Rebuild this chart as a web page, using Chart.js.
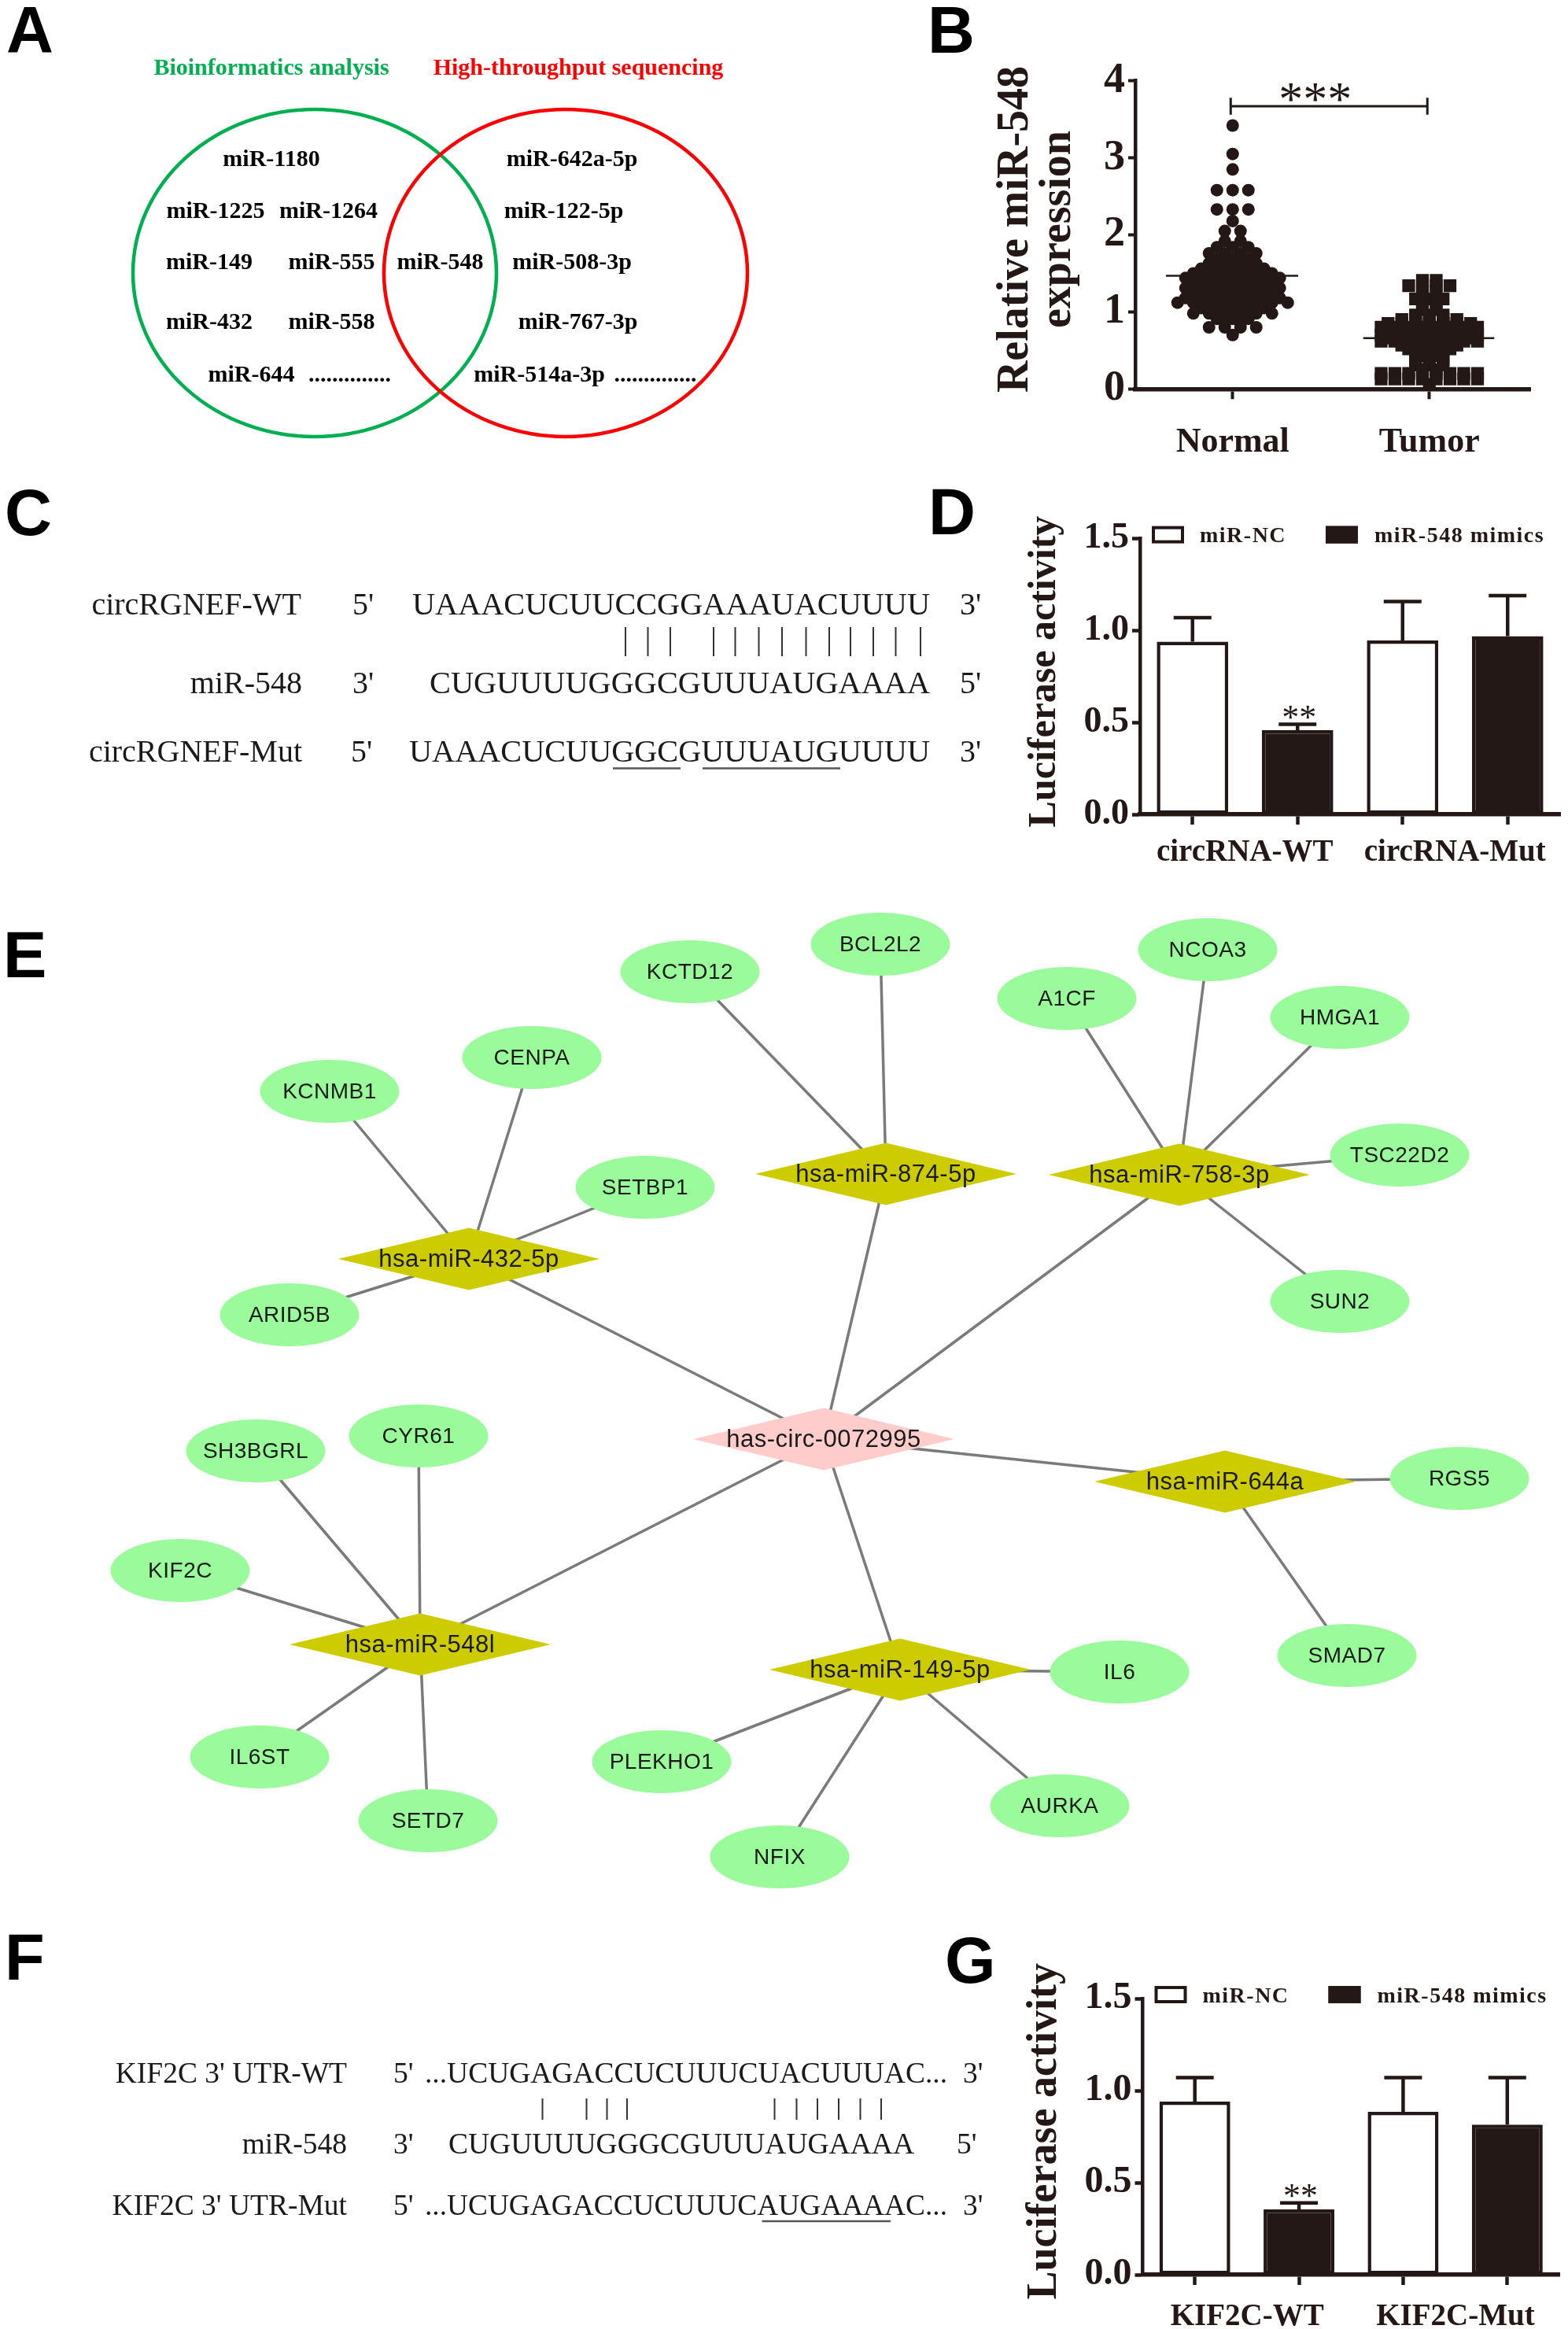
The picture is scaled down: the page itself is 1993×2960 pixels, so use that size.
<!DOCTYPE html>
<html>
<head>
<meta charset="utf-8">
<title>circRGNEF / miR-548 / KIF2C</title>
<script src="https://cdn.jsdelivr.net/npm/chart.js@4.4.1/dist/chart.umd.min.js"></script>
<style>
  html, body { margin: 0; padding: 0; background: #fff; }
  #page { position: relative; width: 1993px; height: 2960px; overflow: hidden; background: #fff; }
  #page canvas, #page svg { position: absolute; }
  #page svg { left: 0; top: 0; pointer-events: none; }
</style>
</head>
<body>
<div id="page">
  <canvas id="vennChart" width="1000" height="580" style="left:0;top:0"></canvas>
  <canvas id="expressionChart" width="753" height="620" style="left:1240px;top:0"></canvas>
  <canvas id="circLucChart" width="753" height="520" style="left:1240px;top:600px"></canvas>
  <canvas id="networkChart" width="1993" height="1300" style="left:0;top:1130px"></canvas>
  <canvas id="kifLucChart" width="753" height="530" style="left:1240px;top:2430px"></canvas>

  <svg width="1993" height="2960" viewBox="0 0 1993 2960">
    <!-- panel letters -->
    <g font-family="'Liberation Sans', Arial, sans-serif" font-weight="bold" font-size="83" fill="#000">
      <text x="8" y="67">A</text>
      <text x="1179" y="67">B</text>
      <text x="6" y="680">C</text>
      <text x="1180" y="679">D</text>
      <text x="4" y="1242">E</text>
      <text x="6" y="2516">F</text>
      <text x="1201" y="2520">G</text>
    </g>

    <!-- C: circRGNEF / miR-548 pairing -->
    <g font-family="'Liberation Serif', 'Times New Roman', serif" font-size="40" fill="#1a1a1a">
      <text x="383" y="781" text-anchor="end">circRGNEF-WT</text>
      <text x="448" y="781">5'</text>
      <text x="524" y="781" textLength="658" lengthAdjust="spacingAndGlyphs">UAAACUCUUCCGGAAAUACUUUU</text>
      <text x="1220" y="781">3'</text>
      <text x="384" y="881" text-anchor="end">miR-548</text>
      <text x="448" y="881">3'</text>
      <text x="546" y="881" textLength="636" lengthAdjust="spacingAndGlyphs">CUGUUUUGGGCGUUUAUGAAAA</text>
      <text x="1220" y="881">5'</text>
      <text x="384" y="968" text-anchor="end">circRGNEF-Mut</text>
      <text x="446" y="968">5'</text>
      <text x="520" y="968" textLength="662" lengthAdjust="spacingAndGlyphs">UAAACUCUUGGCGUUUAUGUUUU</text>
      <text x="1220" y="968">3'</text>
    </g>
    <g stroke="#333" stroke-width="2">
      <line x1="795" y1="797" x2="795" y2="834"/><line x1="823.5" y1="797" x2="823.5" y2="834"/>
      <line x1="852" y1="797" x2="852" y2="834"/><line x1="907" y1="797" x2="907" y2="834"/>
      <line x1="934.5" y1="797" x2="934.5" y2="834"/><line x1="964.5" y1="797" x2="964.5" y2="834"/>
      <line x1="994" y1="797" x2="994" y2="834"/><line x1="1024.5" y1="797" x2="1024.5" y2="834"/>
      <line x1="1054" y1="797" x2="1054" y2="834"/><line x1="1081" y1="797" x2="1081" y2="834"/>
      <line x1="1110" y1="797" x2="1110" y2="834"/><line x1="1138.5" y1="797" x2="1138.5" y2="834"/>
      <line x1="1170" y1="797" x2="1170" y2="834"/>
    </g>
    <g stroke="#555" stroke-width="2.5">
      <line x1="779" y1="976.5" x2="865" y2="976.5"/>
      <line x1="893" y1="976.5" x2="1068" y2="976.5"/>
    </g>

    <!-- F: KIF2C 3' UTR / miR-548 pairing -->
    <g font-family="'Liberation Serif', 'Times New Roman', serif" font-size="37.5" fill="#1a1a1a">
      <text x="441" y="2647" text-anchor="end">KIF2C 3' UTR-WT</text>
      <text x="500" y="2647">5'</text>
      <text x="540" y="2647" textLength="664" lengthAdjust="spacingAndGlyphs">...UCUGAGACCUCUUUCUACUUUAC...</text>
      <text x="1224" y="2647">3'</text>
      <text x="441" y="2737" text-anchor="end">miR-548</text>
      <text x="500" y="2737">3'</text>
      <text x="570" y="2737" textLength="592" lengthAdjust="spacingAndGlyphs">CUGUUUUGGGCGUUUAUGAAAA</text>
      <text x="1216" y="2737">5'</text>
      <text x="441" y="2815" text-anchor="end">KIF2C 3' UTR-Mut</text>
      <text x="500" y="2815">5'</text>
      <text x="540" y="2815" textLength="664" lengthAdjust="spacingAndGlyphs">...UCUGAGACCUCUUUCAUGAAAAC...</text>
      <text x="1224" y="2815">3'</text>
    </g>
    <g stroke="#333" stroke-width="2">
      <line x1="689.5" y1="2667" x2="689.5" y2="2694"/><line x1="745.5" y1="2667" x2="745.5" y2="2694"/>
      <line x1="771.5" y1="2667" x2="771.5" y2="2694"/><line x1="797" y1="2667" x2="797" y2="2694"/>
      <line x1="984.5" y1="2667" x2="984.5" y2="2694"/><line x1="1012.5" y1="2667" x2="1012.5" y2="2694"/>
      <line x1="1039" y1="2667" x2="1039" y2="2694"/><line x1="1066" y1="2667" x2="1066" y2="2694"/>
      <line x1="1093.5" y1="2667" x2="1093.5" y2="2694"/><line x1="1120" y1="2667" x2="1120" y2="2694"/>
    </g>
    <line x1="968.5" y1="2823" x2="1132" y2="2823" stroke="#555" stroke-width="2.5"/>
  </svg>
</div>

<script>
const SERIF = "'Liberation Serif', 'Times New Roman', serif";
const SANS = "'Liberation Sans', Arial, sans-serif";
const INK = '#231815';

Chart.defaults.font.family = SERIF;
Chart.defaults.color = INK;
Chart.defaults.animation = false;
Chart.defaults.events = [];
Chart.defaults.plugins.legend.display = false;
Chart.defaults.plugins.tooltip.enabled = false;

// ---------- A: Venn diagram ----------
const vennSets = ['Bioinformatics analysis', 'High-throughput sequencing'];
const vennCx = [400, 719];
const vennCy = [347, 347];
const vennRx = [231, 231];
const vennRy = [208, 208];
const vennTitleX = [345, 735];
const vennTitleY = 95;
const vennLabels = ['miR-1180', 'miR-642a-5p',
  'miR-1225', 'miR-1264', 'miR-122-5p',
  'miR-149', 'miR-555', 'miR-548', 'miR-508-3p',
  'miR-432', 'miR-558', 'miR-767-3p',
  'miR-644', '..............', 'miR-514a-3p', '..............'];
const vennLabelX = [345, 727, 274, 417.5, 716.5, 266, 421.5, 559.5, 727, 266, 421.5, 734.5, 319.5, 444.5, 685.5, 833];
const vennLabelY = [211, 211, 276.5, 276.5, 276.5, 342, 342, 342, 342, 418, 418, 418, 484.5, 484.5, 484.5, 484.5];
const vennColors = ['#00B050', '#FF0000'];

const vennPlugin = {
  id: 'vennPlugin',
  beforeDatasetsDraw(chart) {
    const { ctx, scales: { x, y } } = chart;
    ctx.save();
    vennSets.forEach((name, i) => {
      const cx = x.getPixelForValue(vennCx[i]);
      const cy = y.getPixelForValue(vennCy[i]);
      const rx = Math.abs(x.getPixelForValue(vennCx[i] + vennRx[i]) - cx);
      const ry = Math.abs(y.getPixelForValue(vennCy[i] + vennRy[i]) - cy);
      ctx.beginPath();
      ctx.ellipse(cx, cy, rx, ry, 0, 0, Math.PI * 2);
      ctx.lineWidth = 4.5;
      ctx.strokeStyle = vennColors[i];
      ctx.stroke();
      ctx.font = 'bold 30px ' + SERIF;
      ctx.fillStyle = vennColors[i];
      ctx.textAlign = 'center';
      ctx.textBaseline = 'alphabetic';
      ctx.fillText(name, x.getPixelForValue(vennTitleX[i]), y.getPixelForValue(vennTitleY));
    });
    ctx.restore();
  },
  afterDatasetsDraw(chart) {
    const ctx = chart.ctx;
    ctx.save();
    ctx.font = 'bold 30px ' + SERIF;
    ctx.fillStyle = '#000';
    ctx.textAlign = 'center';
    ctx.textBaseline = 'alphabetic';
    chart.getDatasetMeta(0).data.forEach((pt, i) => ctx.fillText(vennLabels[i], pt.x, pt.y));
    ctx.restore();
  }
};

new Chart(document.getElementById('vennChart'), {
  type: 'scatter',
  data: { datasets: [{ data: vennLabels.map((t, i) => ({ x: vennLabelX[i], y: vennLabelY[i] })), pointRadius: 0 }] },
  options: {
    responsive: false,
    layout: { padding: 0 },
    scales: {
      x: { type: 'linear', min: 0, max: 1000, display: false },
      y: { type: 'linear', min: 0, max: 580, reverse: true, display: false }
    }
  },
  plugins: [vennPlugin]
});

// ---------- B: relative miR-548 expression ----------
const groupNames = ['Normal', 'Tumor'];
const normalValues = [
  3.42, 3.05, 2.85, 2.58, 2.58, 2.58, 2.33, 2.33, 2.33, 2.18, 2.05, 2.05,
  1.92, 1.92, 1.84, 1.84, 1.84, 1.76, 1.76, 1.76, 1.76, 1.68, 1.68, 1.68,
  1.63, 1.63, 1.63, 1.63, 1.56, 1.56, 1.56, 1.56, 1.56,
  1.50, 1.50, 1.50, 1.50, 1.50, 1.50, 1.44, 1.44, 1.44, 1.44, 1.44, 1.44, 1.44,
  1.38, 1.38, 1.38, 1.38, 1.38, 1.38, 1.31, 1.31, 1.31, 1.31, 1.31, 1.31, 1.31,
  1.24, 1.24, 1.24, 1.24, 1.24, 1.24, 1.18, 1.18, 1.18, 1.18, 1.18, 1.18, 1.18,
  1.12, 1.12, 1.12, 1.12, 1.12, 1.12, 1.12, 1.12, 1.05, 1.05, 1.05, 1.05, 1.05,
  0.98, 0.98, 0.98, 0.98, 0.98, 0.98, 0.91, 0.91, 0.91, 0.85, 0.85,
  0.80, 0.80, 0.80, 0.80, 0.70
];
const tumorValues = [
  1.41, 1.41, 1.34, 1.34, 1.34, 1.34, 1.26, 1.26, 1.17, 1.17, 1.17, 1.13, 1.13,
  1.03, 1.03, 0.96, 0.96, 0.96, 0.90, 0.90, 0.90, 0.90, 0.90,
  0.85, 0.85, 0.85, 0.85, 0.85, 0.85, 0.85,
  0.80, 0.80, 0.80, 0.80, 0.80, 0.80, 0.80, 0.80,
  0.75, 0.75, 0.75, 0.75, 0.75, 0.75, 0.75,
  0.70, 0.70, 0.70, 0.70, 0.70, 0.70, 0.70, 0.70,
  0.66, 0.66, 0.66, 0.66, 0.66, 0.66, 0.66,
  0.62, 0.62, 0.62, 0.62, 0.62, 0.62, 0.62, 0.62,
  0.57, 0.57, 0.57, 0.57, 0.57, 0.52, 0.52, 0.52, 0.52,
  0.47, 0.47, 0.47, 0.43, 0.43, 0.38, 0.38, 0.38, 0.31, 0.31, 0.31, 0.25, 0.25,
  0.20, 0.20, 0.20, 0.20, 0.20, 0.20, 0.20, 0.20,
  0.13, 0.13, 0.13, 0.13, 0.13, 0.13, 0.13, 0.13, 0.06
];
const groupMeans = [1.47, 0.66];
const sigLevel = 3.67;

// equal values sit side by side, centred on the group
function rowOffsets(values, step) {
  const count = {}, seen = {};
  values.forEach(v => { count[v] = (count[v] || 0) + 1; });
  return values.map(v => {
    seen[v] = (seen[v] || 0) + 1;
    return (seen[v] - 1 - (count[v] - 1) / 2) * step;
  });
}

function swarm(values, centre, step) {
  const offs = rowOffsets(values, step);
  return values.map((v, i) => ({ x: centre + offs[i], y: v }));
}

const starPlugin = {
  id: 'starPlugin',
  afterDatasetsDraw(chart, args, opts) {
    const { ctx, scales: { x, y } } = chart;
    ctx.save();
    ctx.font = opts.size + 'px ' + SERIF;
    ctx.fillStyle = INK;
    ctx.textAlign = 'center';
    ctx.textBaseline = 'alphabetic';
    ctx.fillText(opts.text, x.getPixelForValue(opts.x), y.getPixelForValue(opts.y) + opts.shift);
    ctx.restore();
  }
};

new Chart(document.getElementById('expressionChart'), {
  type: 'scatter',
  data: {
    datasets: [
      { type: 'line', data: [{ x: 0.661, y: groupMeans[0] }, { x: 1.333, y: groupMeans[0] }], borderColor: INK, borderWidth: 2.5, pointRadius: 0 },
      { type: 'line', data: [{ x: 1.664, y: groupMeans[1] }, { x: 2.33, y: groupMeans[1] }], borderColor: INK, borderWidth: 2.5, pointRadius: 0 },
      { type: 'line', data: [{ x: 0.99, y: 3.78 }, { x: 0.99, y: 3.56 }, { x: 0.99, y: sigLevel }, { x: 1.99, y: sigLevel }, { x: 1.99, y: 3.78 }, { x: 1.99, y: 3.56 }],
        borderColor: INK, borderWidth: 3, pointRadius: 0 },
      { data: swarm(normalValues, 1, 0.08), pointStyle: 'circle', pointRadius: 8, backgroundColor: INK, borderWidth: 0 },
      { data: swarm(tumorValues, 2, 0.07), pointStyle: 'rect', pointRadius: 11.5, backgroundColor: INK, borderWidth: 0 }
    ]
  },
  options: {
    responsive: false,
    layout: { padding: { left: 25.4, top: 102.7, right: 48, bottom: 0 } },
    plugins: { starPlugin: { text: '***', x: 1.42, y: sigLevel, shift: 11, size: 62 } },
    scales: {
      x: {
        type: 'linear', min: 0.505, max: 2.513,
        afterBuildTicks: axis => { axis.ticks = [{ value: 1 }, { value: 2 }]; },
        afterFit: scale => { scale.height = 125.7; },
        ticks: { callback: v => groupNames[v - 1], font: { size: 44, weight: 'bold' }, padding: 28.5, maxRotation: 0, autoSkip: false, color: INK },
        grid: { drawOnChartArea: false, drawTicks: true, tickLength: 13, tickWidth: 4, tickColor: INK },
        border: { color: INK, width: 5.5 }
      },
      y: {
        min: 0, max: 4,
        afterFit: scale => { scale.width = 177.6; },
        ticks: { stepSize: 1, font: { size: 54, weight: 'bold' }, padding: 4, color: INK },
        grid: { drawOnChartArea: false, tickLength: 9, tickWidth: 4, tickColor: INK },
        border: { color: INK, width: 4.5 },
        title: { display: true, text: [' Relative miR-548', ' expression'], padding: 0, color: INK,
                 font: { size: 56, weight: 'bold', lineHeight: 0.95 } }
      }
    }
  },
  plugins: [starPlugin]
});

// ---------- D & G: luciferase reporter ----------
const seriesNames = ['miR-NC', 'miR-548 mimics'];
const circGroups = ['circRNA-WT', 'circRNA-Mut'];
const circNC = [0.94, 0.946];
const circNCsd = [0.13, 0.212];
const circMimic = [0.458, 0.97];
const circMimicSd = [0.032, 0.22];
const kifGroups = ['KIF2C-WT', 'KIF2C-Mut'];
const kifNC = [0.94, 0.885];
const kifNCsd = [0.13, 0.185];
const kifMimic = [0.355, 0.815];
const kifMimicSd = [0.035, 0.255];

const errorBars = {
  id: 'errorBars',
  afterDatasetsDraw(chart, args, opts) {
    const { ctx, scales: { y } } = chart;
    ctx.save();
    ctx.strokeStyle = INK;
    ctx.lineWidth = 4.5;
    chart.data.datasets.forEach((ds, di) => {
      chart.getDatasetMeta(di).data.forEach((bar, i) => {
        const v = ds.data[i], sd = ds.sd[i];
        if (v == null || sd == null) return;
        const top = y.getPixelForValue(v + sd);
        ctx.beginPath();
        ctx.moveTo(bar.x, y.getPixelForValue(v));
        ctx.lineTo(bar.x, top);
        ctx.moveTo(bar.x - 24, top);
        ctx.lineTo(bar.x + 24, top);
        ctx.stroke();
        if (opts.star && opts.star[0] === di && opts.star[1] === i) {
          ctx.font = '44px ' + SERIF;
          ctx.fillStyle = INK;
          ctx.textAlign = 'center';
          ctx.fillText('**', bar.x + 2, top + 5);
        }
      });
    });
    ctx.restore();
  }
};

const barLegend = {
  id: 'barLegend',
  afterDraw(chart) {
    const { ctx, chartArea: { left, top } } = chart;
    const boxX = [15, 236], textX = [76, 298];
    ctx.save();
    chart.data.datasets.forEach((ds, i) => {
      ctx.fillStyle = ds.backgroundColor;
      ctx.fillRect(left + boxX[i], top - 16, 41, 22);
      ctx.lineWidth = 4;
      ctx.strokeStyle = INK;
      ctx.strokeRect(left + boxX[i] + 2, top - 14, 37, 18);
      ctx.fillStyle = INK;
      ctx.font = 'bold 28px ' + SERIF;
      ctx.letterSpacing = '1.5px';
      ctx.textAlign = 'left';
      ctx.textBaseline = 'alphabetic';
      ctx.fillText(ds.label, left + textX[i], top + 4.5);
    });
    ctx.restore();
  }
};

function luciferaseChart(id, groups, nc, ncSd, mimic, mimicSd, fit) {
  return new Chart(document.getElementById(id), {
    type: 'bar',
    data: {
      labels: [groups[0] + ' NC', groups[0] + ' mimics', groups[1] + ' NC', groups[1] + ' mimics'],
      datasets: [
        { label: seriesNames[0], data: [nc[0], null, nc[1], null], sd: [ncSd[0], null, ncSd[1], null],
          backgroundColor: '#ffffff', borderColor: INK, borderWidth: 4.5, borderSkipped: false,
          grouped: false, barPercentage: 0.68, categoryPercentage: 1 },
        { label: seriesNames[1], data: [null, mimic[0], null, mimic[1]], sd: [null, mimicSd[0], null, mimicSd[1]],
          backgroundColor: INK, borderColor: INK, borderWidth: 4.5, borderSkipped: false,
          grouped: false, barPercentage: 0.68, categoryPercentage: 1 }
      ]
    },
    options: {
      responsive: false,
      layout: { padding: { left: fit.padLeft, top: fit.padTop, right: fit.padRight, bottom: 0 } },
      plugins: { errorBars: { star: [1, 1] } },
      scales: {
        x: {
          offset: true,
          afterFit: scale => { scale.height = fit.xHeight; },
          ticks: { callback: (v, i) => (i % 2 === 0 ? groups[i / 2] : ''), labelOffset: 66.5,
                   font: { size: 39, weight: 'bold' }, padding: fit.xPad, autoSkip: false, maxRotation: 0, color: INK },
          grid: { offset: false, drawOnChartArea: false, tickLength: 13, tickWidth: 4.5, tickColor: INK },
          border: { color: INK, width: 5.5 }
        },
        y: {
          min: 0, max: 1.5,
          afterFit: scale => { scale.width = fit.yWidth; },
          ticks: { stepSize: 0.5, callback: v => v.toFixed(1), font: { size: fit.tickSize, weight: 'bold' }, padding: 4, color: INK },
          grid: { drawOnChartArea: false, tickLength: 10, tickWidth: 4.5, tickColor: INK },
          border: { color: INK, width: 4.5 },
          title: { display: true, text: ' Luciferase activity', padding: 0, color: INK,
                   font: { size: fit.titleSize, weight: 'bold' } }
        }
      }
    },
    plugins: [errorBars, barLegend]
  });
}

luciferaseChart('circLucChart', circGroups, circNC, circNCsd, circMimic, circMimicSd,
  { padLeft: 58, padTop: 84.6, padRight: 10, yWidth: 151, xHeight: 85, xPad: 12.3, tickSize: 46, titleSize: 50 });
luciferaseChart('kifLucChart', kifGroups, kifNC, kifNCsd, kifMimic, kifMimicSd,
  { padLeft: 55.6, padTop: 110, padRight: 11, yWidth: 156.9, xHeight: 69, xPad: 17.3, tickSize: 48, titleSize: 54 });

// ---------- E: circRNA-miRNA-mRNA network ----------
const netNodes = ['has-circ-0072995', 'hsa-miR-874-5p', 'hsa-miR-758-3p', 'hsa-miR-432-5p', 'hsa-miR-644a', 'hsa-miR-548l', 'hsa-miR-149-5p',
  'KCTD12', 'BCL2L2', 'A1CF', 'NCOA3', 'HMGA1', 'TSC22D2', 'SUN2', 'KCNMB1', 'CENPA', 'SETBP1', 'ARID5B',
  'RGS5', 'SMAD7', 'SH3BGRL', 'CYR61', 'KIF2C', 'IL6ST', 'SETD7', 'IL6', 'PLEKHO1', 'NFIX', 'AURKA'];
const netKind = ['circ', 'mir', 'mir', 'mir', 'mir', 'mir', 'mir',
  'gene', 'gene', 'gene', 'gene', 'gene', 'gene', 'gene', 'gene', 'gene', 'gene', 'gene',
  'gene', 'gene', 'gene', 'gene', 'gene', 'gene', 'gene', 'gene', 'gene', 'gene', 'gene'];
const netX = [1047, 1126, 1499, 596, 1557, 534, 1144,
  877, 1119, 1356, 1535, 1703, 1779, 1703, 419, 676, 820, 368,
  1855, 1712, 325, 532, 229, 330, 544, 1423, 841, 991, 1347];
const netY = [1829, 1492, 1493, 1600, 1883, 2090, 2122,
  1235, 1200, 1269, 1207, 1293, 1468, 1654, 1387, 1344, 1509, 1671,
  1879, 2104, 1844, 1825, 1996, 2233, 2314, 2125, 2239, 2360, 2295];
const netEdges = [
  ['has-circ-0072995', 'hsa-miR-874-5p'], ['has-circ-0072995', 'hsa-miR-758-3p'], ['has-circ-0072995', 'hsa-miR-432-5p'],
  ['has-circ-0072995', 'hsa-miR-644a'], ['has-circ-0072995', 'hsa-miR-548l'], ['has-circ-0072995', 'hsa-miR-149-5p'],
  ['hsa-miR-874-5p', 'KCTD12'], ['hsa-miR-874-5p', 'BCL2L2'],
  ['hsa-miR-758-3p', 'A1CF'], ['hsa-miR-758-3p', 'NCOA3'], ['hsa-miR-758-3p', 'HMGA1'], ['hsa-miR-758-3p', 'TSC22D2'], ['hsa-miR-758-3p', 'SUN2'],
  ['hsa-miR-432-5p', 'KCNMB1'], ['hsa-miR-432-5p', 'CENPA'], ['hsa-miR-432-5p', 'SETBP1'], ['hsa-miR-432-5p', 'ARID5B'],
  ['hsa-miR-644a', 'RGS5'], ['hsa-miR-644a', 'SMAD7'],
  ['hsa-miR-548l', 'SH3BGRL'], ['hsa-miR-548l', 'CYR61'], ['hsa-miR-548l', 'KIF2C'], ['hsa-miR-548l', 'IL6ST'], ['hsa-miR-548l', 'SETD7'],
  ['hsa-miR-149-5p', 'IL6'], ['hsa-miR-149-5p', 'PLEKHO1'], ['hsa-miR-149-5p', 'NFIX'], ['hsa-miR-149-5p', 'AURKA']
];

const nodeFill = { circ: '#FFCCCC', mir: '#CCCC00', gene: '#99FB99' };

const nodeShapes = {
  id: 'nodeShapes',
  afterDatasetsDraw(chart) {
    const ctx = chart.ctx;
    const meta = chart.getDatasetMeta(chart.data.datasets.length - 1);
    ctx.save();
    ctx.textAlign = 'center';
    ctx.textBaseline = 'middle';
    meta.data.forEach((pt, i) => {
      const kind = netKind[i];
      ctx.beginPath();
      if (kind === 'gene') {
        ctx.ellipse(pt.x, pt.y, 88.5, 40, 0, 0, Math.PI * 2);
      } else {
        ctx.moveTo(pt.x - 166, pt.y);
        ctx.lineTo(pt.x, pt.y - 39.5);
        ctx.lineTo(pt.x + 166, pt.y);
        ctx.lineTo(pt.x, pt.y + 39.5);
        ctx.closePath();
      }
      ctx.fillStyle = nodeFill[kind];
      ctx.fill();
      ctx.fillStyle = '#1a1a1a';
      ctx.font = (kind === 'gene' ? 28 : 31) + 'px ' + SANS;
      ctx.letterSpacing = '0.5px';
      ctx.fillText(netNodes[i], pt.x, pt.y + 1);
    });
    ctx.restore();
  }
};

const edgeSets = netEdges.map(([a, b]) => {
  const i = netNodes.indexOf(a), j = netNodes.indexOf(b);
  return { type: 'line', data: [{ x: netX[i], y: netY[i] }, { x: netX[j], y: netY[j] }],
           borderColor: '#7a7a7a', borderWidth: 3.5, pointRadius: 0 };
});

new Chart(document.getElementById('networkChart'), {
  type: 'scatter',
  data: {
    datasets: [...edgeSets, { data: netNodes.map((n, i) => ({ x: netX[i], y: netY[i] })), pointRadius: 0 }]
  },
  options: {
    responsive: false,
    layout: { padding: 0 },
    scales: {
      x: { type: 'linear', min: 0, max: 1993, display: false },
      y: { type: 'linear', min: 1130, max: 2430, reverse: true, display: false }
    }
  },
  plugins: [nodeShapes]
});
</script>
</body>
</html>
